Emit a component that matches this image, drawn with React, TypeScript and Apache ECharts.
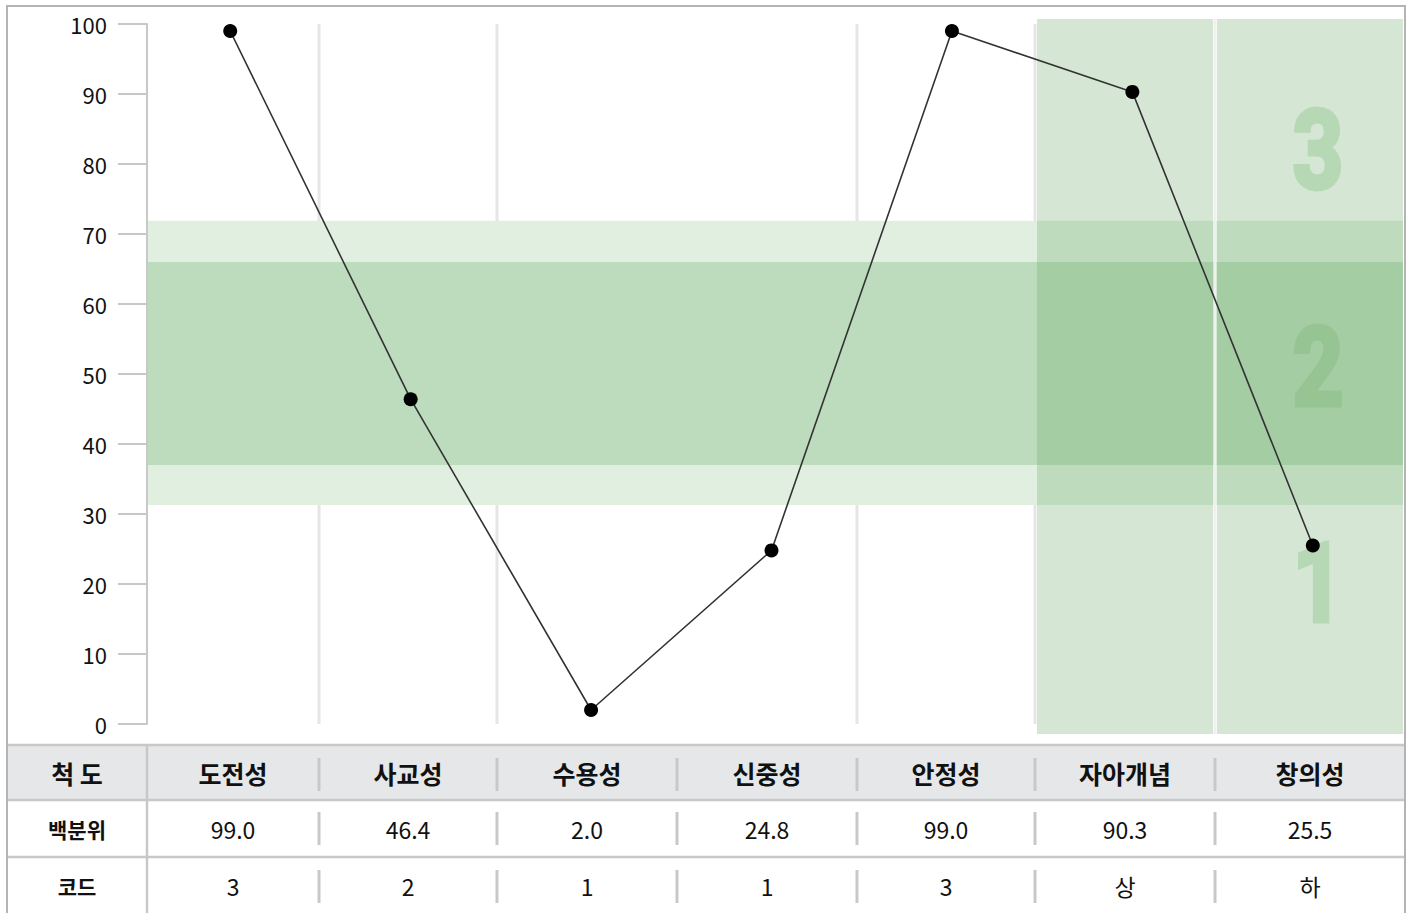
import React, { useEffect, useRef } from "react";
import * as echarts from "echarts";

// ---- data ----
const categories = ["도전성", "사교성", "수용성", "신중성", "안정성", "자아개념", "창의성"];
const percentiles = [99.0, 46.4, 2.0, 24.8, 99.0, 90.3, 25.5];
const codes = ["3", "2", "1", "1", "3", "상", "하"];
const rowHeaders = ["척 도", "백분위", "코드"];
const outerBand = [31.3, 71.9];
const innerBand = [37, 66];
const levelLabels = ["3", "2", "1"];

const W = 1409;
const H = 913;
const FONT = '"Noto Sans CJK KR", "Noto Sans", sans-serif';
const DIGIT_FONT = 'Roboto, "DejaVu Sans", sans-serif';

// table layout (pixels)
const colEdges = [147, 319, 497, 677, 857, 1035, 1215, 1405];
const frameL = 7;
const frameR = 1405;
const tableTop = 745;
const rowLines = [745, 800, 857];
const rowCenters = [773, 829, 886];
const rowSepRanges = [
  [758, 791],
  [812, 845],
  [870, 903],
];

function buildGraphic(chart: echarts.ECharts) {
  const yPx = (v: number) => chart.convertToPixel({ yAxisIndex: 0 }, v) as number;
  const y100 = yPx(100);
  const y0 = yPx(0);
  const els: any[] = [];
  const LINE = "#c8c8c8";

  // plot separators (under the bands)
  [1, 2, 4, 5].forEach((i) => {
    els.push({
      type: "line",
      z: -10,
      shape: { x1: colEdges[i], y1: y100, x2: colEdges[i], y2: y0 },
      style: { stroke: "#e6e6e6", lineWidth: 3 },
    });
  });

  // horizontal bands (opaque, hide separators)
  els.push({
    type: "rect",
    z: -9,
    shape: { x: 148, y: yPx(outerBand[1]), width: 1403 - 148, height: yPx(outerBand[0]) - yPx(outerBand[1]) },
    style: { fill: "#e1efe1" },
  });
  els.push({
    type: "rect",
    z: -8,
    shape: { x: 148, y: yPx(innerBand[1]), width: 1403 - 148, height: yPx(innerBand[0]) - yPx(innerBand[1]) },
    style: { fill: "#bddcbd" },
  });

  // highlighted columns
  els.push({
    type: "rect",
    z: -7,
    shape: { x: 1037, y: 19, width: 1213 - 1037, height: 734 - 19 },
    style: { fill: "rgba(104,168,100,0.28)" },
  });
  els.push({
    type: "rect",
    z: -7,
    shape: { x: 1217, y: 19, width: 1403 - 1217, height: 734 - 19 },
    style: { fill: "rgba(104,168,100,0.28)" },
  });
  els.push({
    type: "line",
    z: -6,
    shape: { x1: 1215, y1: 19, x2: 1215, y2: 734 },
    style: { stroke: "#eef1ee", lineWidth: 3 },
  });

  // level digits
  const levelY = [150, 367, 583];
  const levelColors = ["#b6d8b4", "#96c493", "#b6d8b4"];
  levelLabels.forEach((t, i) => {
    els.push({
      type: "text",
      z: -5,
      x: 1318,
      y: levelY[i],
      scaleX: 0.8,
      style: {
        text: t,
        fill: levelColors[i],
        stroke: levelColors[i],
        lineWidth: 5,
        fontSize: 110,
        fontWeight: "bold",
        fontFamily: DIGIT_FONT,
        align: "center",
        verticalAlign: "middle",
        textAlign: "center",
        textVerticalAlign: "middle",
      },
    });
  });

  // table header background
  els.push({
    type: "rect",
    z: -4,
    shape: { x: frameL, y: rowLines[0], width: frameR - frameL, height: rowLines[1] - rowLines[0] },
    style: { fill: "#e6e7e9" },
  });
  // horizontal table lines
  rowLines.forEach((y) => {
    els.push({
      type: "line",
      z: -3,
      shape: { x1: frameL, y1: y, x2: frameR, y2: y },
      style: { stroke: LINE, lineWidth: 2.5 },
    });
  });
  // vertical line after header column
  els.push({
    type: "line",
    z: -3,
    shape: { x1: colEdges[0], y1: tableTop, x2: colEdges[0], y2: H },
    style: { stroke: LINE, lineWidth: 2.5 },
  });
  // short separators in rows
  for (let i = 1; i < colEdges.length - 1; i++) {
    rowSepRanges.forEach(([a, b]) => {
      els.push({
        type: "line",
        z: -3,
        shape: { x1: colEdges[i], y1: a, x2: colEdges[i], y2: b },
        style: { stroke: LINE, lineWidth: 3 },
      });
    });
  }
  // outer frame
  els.push({
    type: "polyline",
    z: -2,
    shape: { points: [[frameL, H], [frameL, 6], [frameR, 6], [frameR, H]] },
    style: { stroke: "#b4b4b4", lineWidth: 2, fill: "none" },
  });

  const txt = (text: string, x: number, y: number, size: number, bold: boolean) => ({
    type: "text",
    z: 5,
    x,
    y,
    style: {
      text,
      fill: "#111",
      fontSize: size,
      fontWeight: bold ? "bold" : "normal",
      fontFamily: FONT,
      align: "center",
      verticalAlign: "middle",
      textAlign: "center",
      textVerticalAlign: "middle",
    },
  });

  const headerX = (frameL + colEdges[0]) / 2;
  els.push(txt(rowHeaders[0], headerX, rowCenters[0], 25, true));
  els.push(txt(rowHeaders[1], headerX, rowCenters[1], 21, true));
  els.push(txt(rowHeaders[2], headerX, rowCenters[2], 21, true));

  categories.forEach((c, i) => {
    const cx = (colEdges[i] + colEdges[i + 1]) / 2;
    els.push(txt(c, cx, rowCenters[0], 25, true));
    els.push(txt(percentiles[i].toFixed(1), cx, rowCenters[1], 23, false));
    els.push(txt(codes[i], cx, rowCenters[2], 23, false));
  });

  return els;
}

export default function App() {
  const ref = useRef<HTMLDivElement>(null);

  useEffect(() => {
    if (!ref.current) return;
    const chart = echarts.init(ref.current, undefined, { renderer: "svg" });
    chart.setOption({
      animation: false,
      backgroundColor: "#ffffff",
      grid: { left: 140, right: W - 1403, top: 24, bottom: H - 724, containLabel: false },
      xAxis: {
        type: "category",
        data: categories,
        boundaryGap: true,
        show: false,
      },
      yAxis: {
        type: "value",
        min: 0,
        max: 100,
        interval: 10,
        offset: -7,
        axisLine: { show: true, lineStyle: { color: "#c8c8c8", width: 2 } },
        axisTick: { show: true, length: 29, lineStyle: { color: "#c8c8c8", width: 2 } },
        axisLabel: { margin: 40, fontSize: 22, color: "#111", fontFamily: FONT },
        splitLine: { show: false },
      },
      series: [
        {
          type: "line",
          data: percentiles,
          z: 10,
          symbol: "circle",
          symbolSize: 14,
          lineStyle: { color: "#333", width: 1.6 },
          itemStyle: { color: "#000" },
        },
      ],
    });
    chart.setOption({ graphic: { elements: buildGraphic(chart) } });
    return () => chart.dispose();
  }, []);

  return (
    <div
      ref={ref}
      style={{ position: "fixed", left: 0, top: 0, width: W, height: H, background: "#fff" }}
    />
  );
}
